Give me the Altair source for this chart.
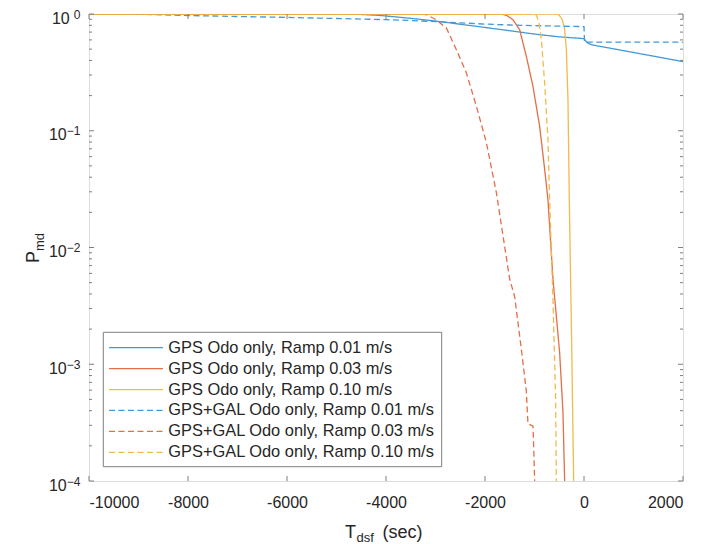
import altair as alt
import pandas as pd

# ---------------- data ----------------
series_names = [
    "GPS Odo only, Ramp 0.01 m/s",
    "GPS Odo only, Ramp 0.03 m/s",
    "GPS Odo only, Ramp 0.10 m/s",
    "GPS+GAL Odo only, Ramp 0.01 m/s",
    "GPS+GAL Odo only, Ramp 0.03 m/s",
    "GPS+GAL Odo only, Ramp 0.10 m/s",
]

gps_001_t = [-10000, -5000, -4600, -4200, -4000, -3500, -3000, -2500, -2000, -1500,
             -1000, -500, -100, 0, 30, 60, 120, 200, 500, 1000, 1500, 2000]
gps_001_p = [1.0, 1.0, 0.995, 0.977, 0.962, 0.918, 0.871, 0.817, 0.767, 0.719,
             0.673, 0.637, 0.620, 0.614, 0.592, 0.571, 0.552, 0.540, 0.512, 0.468, 0.428, 0.391]

gps_003_t = [-10000, -1700, -1640, -1550, -1435, -1300, -1165, -1031, -896, -795,
             -728, -627, -492, -425, -391]
gps_003_p = [1.0, 1.0, 0.993, 0.966, 0.893, 0.735, 0.434, 0.240, 0.109, 0.0468,
             0.0257, 0.00537, 0.00126, 0.000389, 0.0001]

gps_010_t = [-10000, -540, -500, -437, -391, -356, -324, -297, -250, -209]
gps_010_p = [1.0, 1.0, 0.977, 0.893, 0.735, 0.494, 0.185, 0.0257, 0.00158, 0.0001]

gal_001_t = [-10000, -9000, -8500, -8000, -7000, -6000, -5000, -4000, -3500, -3000,
             -2500, -2000, -1500, -1000, -500, 0, 10, 2000]
gal_001_p = [1.0, 0.995, 0.985, 0.97, 0.952, 0.935, 0.915, 0.895, 0.88, 0.86,
             0.84, 0.82, 0.805, 0.795, 0.787, 0.780, 0.575, 0.575]

gal_003_t = [-10000, -3300, -3185, -2983, -2780, -2578, -2376, -2174, -1973, -1770,
             -1502, -1401, -1266, -1165, -1132, -1031, -1017, -997]
gal_003_p = [1.0, 1.0, 0.989, 0.891, 0.759, 0.494, 0.313, 0.162, 0.0794, 0.0295,
             0.00537, 0.0038, 0.00135, 0.000589, 0.000309, 0.000295, 0.0002, 0.0001]

gal_010_t = [-10000, -1000, -960, -909, -862, -795, -728, -694, -627, -573, -559]
gal_010_p = [1.0, 1.0, 0.977, 0.838, 0.603, 0.257, 0.0839, 0.0257, 0.00359, 0.000501, 0.0001]

x_ticks = [-10000, -8000, -6000, -4000, -2000, 0, 2000]
y_ticks = [1e-4, 1e-3, 1e-2, 1e-1, 1.0]
y_tick_base = ["10", "10", "10", "10", "10"]
y_tick_exp = ["\u22124", "\u22123", "\u22122", "\u22121", "0"]
y_minor = [k * d for d in [1e-4, 1e-3, 1e-2, 1e-1] for k in range(2, 10)]

# ---------------- styles ----------------
colors = ["#4199d9", "#e36f47", "#f0bb4a", "#4199d9", "#e36f47", "#f0bb4a"]
dashes = [[1, 0], [1, 0], [1, 0], [6, 3.5], [6, 3.5], [6, 3.5]]
FONT = "Liberation Sans"
TXT = "#262626"
GRAY = "#7f7f7f"
W, H = 594, 467

series_data = [
    (gps_001_t, gps_001_p), (gps_003_t, gps_003_p), (gps_010_t, gps_010_p),
    (gal_001_t, gal_001_p), (gal_003_t, gal_003_p), (gal_010_t, gal_010_p),
]
rows = []
for name, (ts, ps) in zip(series_names, series_data):
    for i, (t, p) in enumerate(zip(ts, ps)):
        rows.append({"series": name, "t": t, "p": p, "i": i})
df = pd.DataFrame(rows)

x_scale = alt.Scale(domain=[-10000, 2000], nice=False, zero=False)
x_axis = alt.Axis(
    values=x_ticks, format="d", labelExpr="replace(datum.label, '\u2212', '-')",
    title=None, ticks=False, domain=False, grid=False,
    labelFont=FONT, labelFontSize=16, labelColor=TXT, labelPadding=13)


def y_scale():
    return alt.Scale(type="log", domain=[1e-4, 1], nice=False)


color = alt.Color("series:N", scale=alt.Scale(domain=series_names, range=colors), legend=None)
dash = alt.StrokeDash("series:N", scale=alt.Scale(domain=series_names, range=dashes), legend=None)

lines = alt.Chart(df).mark_line(strokeWidth=1.3, clip=True).encode(
    x=alt.X("t:Q", scale=x_scale, axis=x_axis),
    y=alt.Y("p:Q", scale=y_scale(), axis=None),
    color=color,
    strokeDash=dash,
    order="i:Q",
)

# inward ticks (MATLAB style)
xt = pd.DataFrame({"t": x_ticks})
xt_bottom = alt.Chart(xt).mark_rule(color=GRAY, strokeWidth=1).encode(
    x=alt.X("t:Q", scale=x_scale, axis=x_axis), y=alt.value(H), y2=alt.value(H - 5))
xt_top = alt.Chart(xt).mark_rule(color=GRAY, strokeWidth=1).encode(
    x=alt.X("t:Q", scale=x_scale, axis=x_axis), y=alt.value(0), y2=alt.value(5))

ytm = pd.DataFrame({"p": y_ticks, "base": y_tick_base, "exp": y_tick_exp})
ytn = pd.DataFrame({"p": y_minor})
yt_layers = []
for d, ln in [(ytm, 5), (ytn, 3)]:
    yt_layers.append(alt.Chart(d).mark_rule(color=GRAY, strokeWidth=1).encode(
        y=alt.Y("p:Q", scale=y_scale(), axis=None), x=alt.value(0), x2=alt.value(ln)))
    yt_layers.append(alt.Chart(d).mark_rule(color=GRAY, strokeWidth=1).encode(
        y=alt.Y("p:Q", scale=y_scale(), axis=None), x=alt.value(W), x2=alt.value(W - ln)))

# y tick labels: base "10" with raised exponent
ylab_base_pos = alt.Chart(ytm).transform_filter("datum.p >= 0.5").mark_text(
    align="right", baseline="alphabetic", dy=9.5, font=FONT, fontSize=16, color=TXT).encode(
    y=alt.Y("p:Q", scale=y_scale(), axis=None), x=alt.value(-19.3), text="base:N")
ylab_base_neg = alt.Chart(ytm).transform_filter("datum.p < 0.5").mark_text(
    align="right", baseline="alphabetic", dy=9.5, font=FONT, fontSize=16, color=TXT).encode(
    y=alt.Y("p:Q", scale=y_scale(), axis=None), x=alt.value(-22.3), text="base:N")
ylab_exp = alt.Chart(ytm).mark_text(
    align="right", baseline="alphabetic", dy=4.5, font=FONT, fontSize=12, color=TXT).encode(
    y=alt.Y("p:Q", scale=y_scale(), axis=None), x=alt.value(-8.6), text="exp:N")

# legend
leg_df = pd.DataFrame({"series": series_names})
leg_y = alt.Y("series:N", scale=alt.Scale(type="point", domain=series_names,
                                          range=[333.7, 438.3], padding=0), axis=None)
leg_box = alt.Chart(pd.DataFrame({"a": [0]})).mark_rect(
    fill="white", stroke=GRAY, strokeWidth=1).encode(
    x=alt.value(14.3), x2=alt.value(352.7), y=alt.value(318.3), y2=alt.value(452.7))
leg_lines = alt.Chart(leg_df).mark_rule(strokeWidth=1.3).encode(
    x=alt.value(20), x2=alt.value(74), y=leg_y, color=color, strokeDash=dash)
leg_text = alt.Chart(leg_df).mark_text(
    align="left", baseline="middle", font=FONT, fontSize=16.4, color=TXT).encode(
    x=alt.value(79.3), y=leg_y, text="series:N")


# axis titles with subscripts
def txt(s, x, y, size, angle=0):
    props = dict(align="left", baseline="alphabetic", font=FONT, fontSize=size, color=TXT)
    if angle:
        props["angle"] = angle
    return alt.Chart(pd.DataFrame({"s": [s]})).mark_text(**props).encode(
        x=alt.value(x), y=alt.value(y), text="s:N")


titles = [
    txt("T", 256, 524, 18),
    txt("dsf", 267.5, 527.5, 13),
    txt("(sec)", 293.5, 524, 18),
    txt("P", -50.5, 249, 18, 270),
    txt("md", -45.5, 237, 13, 270),
]

chart = alt.layer(
    lines, xt_bottom, xt_top, *yt_layers, ylab_base_pos, ylab_base_neg, ylab_exp,
    leg_box, leg_lines, leg_text, *titles
).resolve_scale(y="independent").properties(
    width=W, height=H,
    padding={"left": 81, "top": 6, "right": 13, "bottom": 63},
    autosize=alt.AutoSizeParams(type="none"),
    background="white",
).configure_view(stroke=GRAY, strokeWidth=1).configure(font=FONT)

chart.save("out.html", embed_options={"renderer": "svg", "actions": False})
